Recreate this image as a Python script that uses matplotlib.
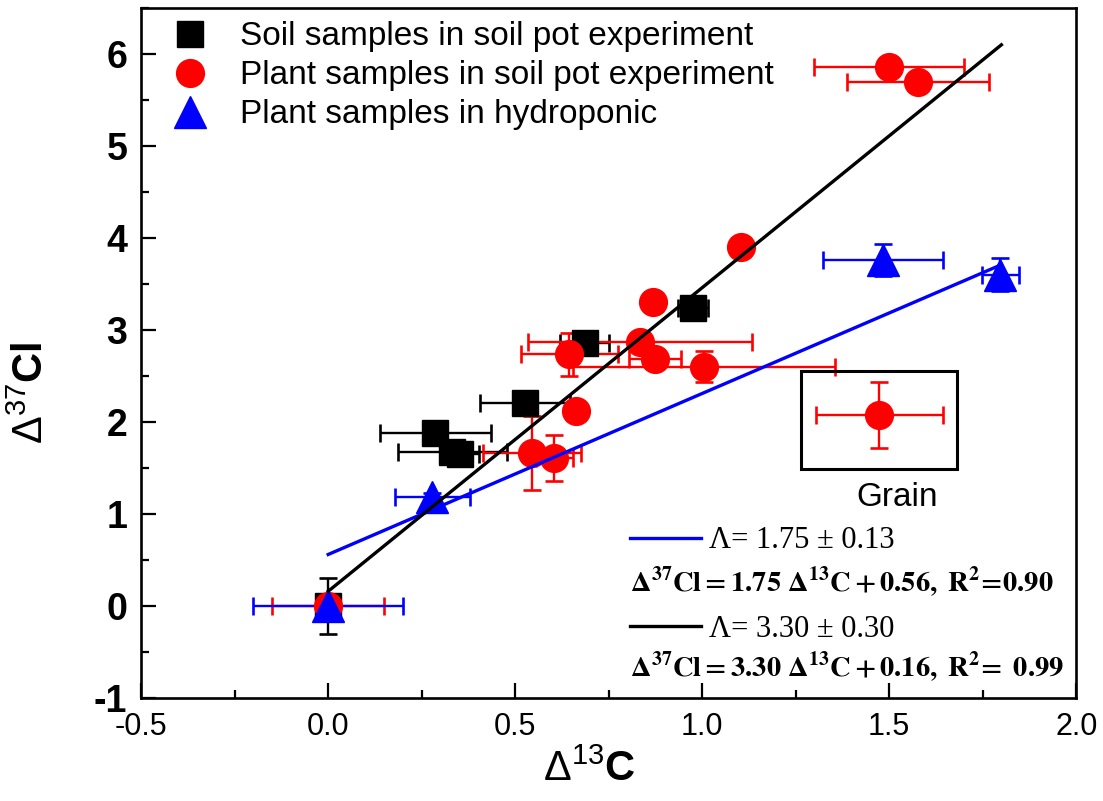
import numpy as np
import matplotlib.pyplot as plt
from matplotlib.patches import Rectangle

plt.rcParams['font.family'] = ['Liberation Sans', 'DejaVu Sans']
plt.rcParams['mathtext.fontset'] = 'custom'
plt.rcParams['mathtext.rm'] = 'Liberation Sans'
plt.rcParams['mathtext.it'] = 'Liberation Sans:italic'
plt.rcParams['mathtext.bf'] = 'Liberation Sans:bold'
plt.rcParams['axes.unicode_minus'] = False

# Soil samples in soil pot experiment
soil_x = [0.0, 0.286, 0.332, 0.352, 0.527, 0.686, 0.976]
soil_y = [0.0, 1.88, 1.67, 1.65, 2.21, 2.86, 3.24]
soil_xerr = [0.0, 0.148, 0.146, 0.05, 0.12, 0.065, 0.04]
soil_yerr = [0.30, 0.0, 0.0, 0.07, 0.0, 0.0, 0.05]

# Plant samples in soil pot experiment (last one = grain)
plant_x = [0.0, 0.545, 0.605, 0.663, 0.645, 0.834, 0.874, 0.869, 1.005, 1.104, 1.50, 1.578, 1.473]
plant_y = [0.0, 1.66, 1.61, 2.12, 2.735, 2.87, 2.68, 3.30, 2.60, 3.90, 5.86, 5.70, 2.08]
plant_xerr = [0.15, 0.13, 0.05, 0.0, 0.13, 0.30, 0.07, 0.0, 0.35, 0.0, 0.20, 0.19, 0.17]
plant_yerr = [0.0, 0.40, 0.25, 0.0, 0.235, 0.0, 0.0, 0.0, 0.17, 0.0, 0.0, 0.0, 0.36]

# Plant samples in hydroponic
hydro_x = [0.0, 0.278, 1.483, 1.797]
hydro_y = [0.0, 1.18, 3.76, 3.60]
hydro_xerr = [0.20, 0.10, 0.16, 0.05]
hydro_yerr = [0.0, 0.05, 0.17, 0.18]

# linear fits: slope, intercept
fit_blue = (1.75, 0.56)
fit_black = (3.30, 0.16)
fit_xrange = (0.0, 1.8)

# grain box (data coords)
grain_box = (1.264, 1.489, 0.418, 1.065)

fig = plt.figure(figsize=(11.03, 8.01), dpi=100)
ax = fig.add_axes([0.128, 0.1286, 0.8477, 0.8614])

ekw = dict(linestyle='none', elinewidth=1.7, capsize=6.5, capthick=1.9)
eb1 = ax.errorbar(soil_x, soil_y, xerr=soil_xerr, yerr=soil_yerr, marker='s', ms=18.5,
                  color='black', ecolor='black', **ekw)
eb2 = ax.errorbar(plant_x, plant_y, xerr=plant_xerr, yerr=plant_yerr, marker='o', ms=20,
                  color='#ff0000', ecolor='#ff0000', **ekw)
eb3 = ax.errorbar(hydro_x, hydro_y, xerr=hydro_xerr, yerr=hydro_yerr, marker='^', ms=23,
                  color='#0000ff', ecolor='#0000ff', **ekw)

xf = np.array(fit_xrange)
lb, = ax.plot(xf, fit_blue[0] * xf + fit_blue[1], color='#0000ff', lw=2.4, zorder=4)
lk, = ax.plot(xf, fit_black[0] * xf + fit_black[1], color='black', lw=2.4, zorder=4)

ax.add_patch(Rectangle(grain_box[:2], grain_box[2], grain_box[3], fill=False,
                       edgecolor='black', lw=2.2, zorder=3))
ax.text(1.52, 1.18, 'Grain', fontsize=24, ha='center', va='center')

ax.set_xlim(-0.5, 2.0)
ax.set_ylim(-1, 6.5)
ax.set_xticks(np.arange(-0.5, 2.01, 0.5))
ax.set_xticks(np.arange(-0.5, 2.01, 0.25), minor=True)
ax.set_yticks(np.arange(-1, 7, 1))
ax.set_yticks(np.arange(-1, 6.6, 0.5), minor=True)
ax.set_xticklabels(['-0.5', '0.0', '0.5', '1.0', '1.5', '2.0'])
ax.tick_params(which='both', direction='in', width=1.6, top=False, right=False)
ax.tick_params(which='major', length=11)
ax.tick_params(which='minor', length=6)
ax.tick_params(axis='x', labelsize=22, pad=10)
ax.tick_params(axis='y', labelsize=27, pad=10)
for lab in ax.get_yticklabels():
    lab.set_fontweight('bold')
for sp in ax.spines.values():
    sp.set_linewidth(1.9)

ax.set_xlabel(r'$\Delta^{13}$C', fontsize=30, fontweight='bold')
ax.xaxis.set_label_coords(0.479, -0.075)
ax.set_ylabel(r'$\Delta^{37}$Cl', fontsize=30, fontweight='bold')
ax.yaxis.set_label_coords(-0.095, 0.443)

leg1 = ax.legend([eb1[0], eb2[0], eb3[0]],
                 ['Soil samples in soil pot experiment',
                  'Plant samples in soil pot experiment',
                  'Plant samples in hydroponic'],
                 loc='upper left', bbox_to_anchor=(0.020, 1.0), borderaxespad=0,
                 frameon=False, fontsize=24, handlelength=1.0, handletextpad=1.0,
                 labelspacing=0.24, numpoints=1)
ax.add_artist(leg1)

ax.legend([lb, lk], ['Λ= 1.75 ± 0.13', 'Λ= 3.30 ± 0.30'],
          loc='upper left', bbox_to_anchor=(0.510, 0.2665), borderaxespad=0,
          frameon=False, prop={'family': 'Liberation Serif', 'size': 22},
          handlelength=2.32, handletextpad=0.26, labelspacing=1.95)

eq1 = r'$\mathbf{\Delta^{37}Cl = 1.75\ \Delta^{13}C + 0.56,\ R^{2}\!=\!0.90}$'
eq2 = r'$\mathbf{\Delta^{37}Cl = 3.30\ \Delta^{13}C + 0.16,\ R^{2}\!=\ 0.99}$'
ax.text(0.523, 0.168, eq1, transform=ax.transAxes, fontsize=20.5, va='center',
        math_fontfamily='stix')
ax.text(0.523, 0.045, eq2, transform=ax.transAxes, fontsize=20.5, va='center',
        math_fontfamily='stix')

fig.savefig('out.png', dpi=100)
